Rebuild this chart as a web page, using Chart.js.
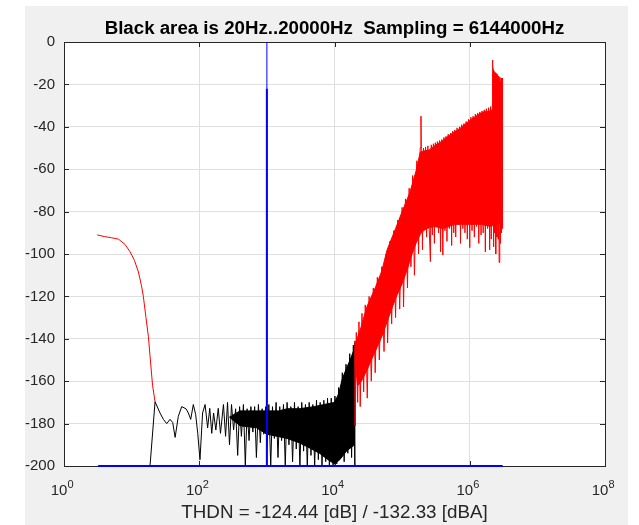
<!DOCTYPE html>
<html>
<head>
<meta charset="utf-8">
<script src="https://cdn.jsdelivr.net/npm/chart.js@4.4.0/dist/chart.umd.min.js"></script>
<style>
  body { margin: 0; background: #fff; }
  #figure { position: absolute; left: 25px; top: 6px; width: 603px; height: 519px; background: #f0f0f0; }
  #spectrum { position: absolute; left: 0; top: 0; }
</style>
</head>
<body>
<div id="figure"></div>
<canvas id="spectrum" width="639" height="525"></canvas>
<script>
// axis ticks (x labels are 10 with a raised exponent)
const xTickValues = [1, 1e2, 1e4, 1e6, 1e8];
const xTickBase = ['10', '10', '10', '10', '10'];
const xTickExponents = ['0', '2', '4', '6', '8'];

// blue: test tone at 1 kHz and the floor line
const toneHz = 1000;
const toneTopDb = 0;
const toneShoulderDb = -22;
const floorHz = [3.2, 3.07e6];
const floorDb = [-200, -200];

// red roll-off below 20 Hz
const lowFreqHz = [3.1, 4, 5, 6.4, 8, 9.5, 11, 12.6, 14, 14.9, 16.3, 17.7, 18.7, 20.4, 22.2];
const lowDb = [-91, -91.8, -92.3, -93, -95.5, -99, -103, -108.5, -115, -120, -130, -139, -148, -162, -169.7];

// black trace 20 Hz .. 20 kHz
const blackHz = [18.7, 22.2, 26.3, 29.5, 33, 37, 40.5, 44, 49, 55, 63.6, 69, 74.8, 81.7, 88.6, 95, 102.5, 112, 122, 133,
  143, 153, 163, 176, 191, 206, 228, 245, 262, 280, 300, 322, 345, 370, 395, 420, 450, 480, 510, 545,
  580, 620, 660, 700, 750, 800, 850, 900, 960, 1000, 1070, 1140, 1210, 1290, 1370, 1460, 1550, 1650, 1760, 1870,
  1990, 2120, 2260, 2400, 2560, 2720, 2900, 3080, 3280, 3490, 3720, 3960, 4220, 4490, 4780, 5090, 5420, 5770, 6140, 6540,
  6960, 7410, 7890, 8400, 8950, 9530, 10150, 10800, 11500, 12250, 13050, 13900, 14800, 15750, 16800, 17900, 19000, 20000, 20100];
const blackDb = [-200, -169.7, -175, -178, -180, -178, -179.5, -186.5, -176.6, -172, -173, -175, -178, -171, -175.8, -184.6, -197, -175, -171, -182,
  -172.8, -184.6, -175, -183, -172.8, -184.6, -171, -186, -170, -190, -171, -183, -173, -195, -172, -186, -171, -200, -173, -188,
  -172, -184, -172, -196, -171, -189, -173, -185, -172, -191, -171, -200, -172, -187, -170, -196, -172, -188, -171, -200,
  -170, -190, -172, -198, -170, -192, -172, -200, -170, -193, -171, -200, -170, -195, -171, -200, -169, -197, -170, -200,
  -169, -198, -168, -200, -168, -200, -167, -199, -163, -196, -156, -198, -152, -194, -147, -196, -143, -200, -141];

// black dense band envelopes
const blackTopHz = [280, 400, 500, 700, 1000, 1500, 2000, 3000, 5000, 7000, 10000, 11500, 13000, 15000, 17000, 19000, 20000];
const blackTopDb = [-177, -174, -174, -174, -174, -174, -173, -173, -172, -171, -170, -166, -159, -154, -150, -146, -142];
const blackBotHz = [280, 400, 700, 1000, 2000, 3000, 4000, 6000, 8000, 10000, 12000, 15000, 18000, 20000];
const blackBotDb = [-177, -181, -182, -185, -187, -189, -191, -194, -197, -199, -197, -193, -191, -190];

// red trace above 20 kHz
const redHz = [20100, 20300, 21000, 22000, 23000, 24000, 25500, 27000, 28500, 30500, 32500, 35000, 37500, 40000, 43000, 46000, 50000, 54000, 58000, 61000,
  66000, 70000, 75000, 80000, 86000, 92000, 100000, 105000, 112000, 120000, 127000, 135000, 143000, 152000, 165000, 175000, 185000, 190000, 192000, 200000,
  207000, 215000, 222000, 230000, 240000, 250000, 262000, 270000, 280000, 290000, 300000, 310000, 320000, 332000, 345000, 357000, 370000, 385000, 400000, 415000,
  430000, 445000, 460000, 480000, 500000, 520000, 540000, 560000, 580000, 600000, 620000, 650000, 680000, 705000, 730000, 760000, 790000, 820000, 850000, 885000,
  920000, 960000, 1000000, 1040000, 1080000, 1120000, 1170000, 1210000, 1260000, 1310000, 1360000, 1410000, 1470000, 1520000, 1580000, 1640000, 1700000, 1760000, 1830000, 1900000,
  1970000, 2030000, 2080000, 2150000, 2170000, 2190000, 2210000, 2240000, 2260000, 2300000, 2330000, 2370000, 2420000, 2470000, 2520000, 2570000, 2620000, 2670000, 2720000, 2780000,
  2850000, 2900000, 2950000, 3000000, 3040000, 3070000];
const redDb = [-141, -181, -137, -170, -132, -172, -128, -165, -124, -168, -120, -160, -116, -156, -111, -150, -106, -146, -100, -142,
  -94, -133, -89, -130, -84, -126, -78, -125, -74, -116, -69, -106, -63, -110, -56, -100, -50, -35, -51, -98,
  -50, -88, -49.5, -92, -49, -86, -103.6, -48.5, -91, -48, -95, -47.5, -87, -47, -90, -46.5, -99, -46, -100.5, -45,
  -89, -44.5, -94, -43.5, -88, -43, -96, -42, -90, -41.5, -92, -40.5, -86, -40, -95, -39, -88, -38.5, -90, -37.5,
  -93, -36.5, -97, -35.5, -89, -35, -92, -34, -87, -33.5, -95, -33, -91, -32.5, -90, -32, -99, -31.5, -88, -31,
  -98, -30.5, -93, -30, -8.5, -11, -13, -89, -96.5, -14, -90, -14.5, -100, -15, -92, -15.5, -93, -16, -104, -16.5,
  -95, -17, -90, -17, -88, -17.5];

// red dense band envelopes
const redTopHz = [20100, 25000, 30000, 40000, 50000, 60000, 80000, 100000, 130000, 160000, 185000, 200000, 250000, 300000, 400000, 500000, 700000, 1000000, 1300000, 1600000, 2000000, 2150000, 2200000, 2400000, 2700000, 3070000];
const redTopDb = [-143, -134, -125, -116, -108, -98, -88, -80, -71, -61, -52, -51.5, -51, -49, -46.5, -44, -41, -37, -34.5, -33, -32.5, -32, -15, -17, -18.5, -19.5];
const redBotHz = [20100, 22000, 25000, 30000, 35000, 40000, 50000, 60000, 70000, 80000, 100000, 120000, 140000, 160000, 190000, 230000, 300000, 400000, 600000, 1000000, 1500000, 2000000, 2500000, 3070000];
const redBotDb = [-150, -162, -160, -155, -150, -146, -139, -132, -126, -121, -114, -107, -100, -95, -90, -88, -87, -88, -86, -86, -86, -87, -86, -85];

const FONT = '"Liberation Sans", Arial, Helvetica, sans-serif';
const RED = '#ff0000';
const BLUE = '#0000ff';
const AXIS_COLOR = '#262626';

const pts = (xs, ys) => xs.map((f, i) => ({ x: f, y: ys[i] }));

function lineSet(data, color, width, extra) {
    return Object.assign({
        data: data, xAxisID: 'x', yAxisID: 'y',
        borderColor: color, backgroundColor: color, borderWidth: width, pointRadius: 0, fill: false
    }, extra || {});
}

// white plot area, axes box, inner tick marks and the raised exponents of the x labels
const axesBox = {
    id: 'axesBox',
    beforeDraw(chart) {
        const a = chart.chartArea;
        chart.ctx.save();
        chart.ctx.fillStyle = '#ffffff';
        chart.ctx.fillRect(a.left, a.top, a.width, a.height);
        chart.ctx.restore();
    },
    beforeDatasetsDraw(chart) {
        const { ctx, chartArea: a, scales } = chart;
        ctx.save();
        ctx.strokeStyle = AXIS_COLOR;
        ctx.lineWidth = 1;
        ctx.strokeRect(a.left + 0.5, a.top + 0.5, a.width, a.height);
        ctx.beginPath();
        xTickValues.forEach(v => {
            const px = Math.round(scales.x.getPixelForValue(v)) + 0.5;
            ctx.moveTo(px, a.bottom); ctx.lineTo(px, a.bottom - 5);
            ctx.moveTo(px, a.top); ctx.lineTo(px, a.top + 5);
        });
        scales.y.ticks.forEach(t => {
            const py = Math.round(scales.y.getPixelForValue(t.value)) + 0.5;
            ctx.moveTo(a.left, py); ctx.lineTo(a.left + 5, py);
            ctx.moveTo(a.right, py); ctx.lineTo(a.right - 5, py);
        });
        ctx.stroke();
        ctx.restore();
    },
    afterDraw(chart) {
        const { ctx, scales } = chart;
        ctx.save();
        ctx.font = '11px ' + FONT;
        ctx.fillStyle = AXIS_COLOR;
        ctx.textAlign = 'left';
        ctx.textBaseline = 'alphabetic';
        xTickValues.forEach((v, i) => {
            const px = scales.x.getPixelForValue(v);
            ctx.fillText(xTickExponents[i], px + 3.5, scales.x.top + 22);
        });
        ctx.restore();
    }
};

new Chart(document.getElementById('spectrum'), {
    type: 'line',
    data: {
        datasets: [
            lineSet([{ x: toneHz, y: -200 }, { x: toneHz, y: toneTopDb }], BLUE, 1),
            lineSet([{ x: toneHz, y: -200 }, { x: toneHz, y: toneShoulderDb }], BLUE, 2),
            lineSet(pts(floorHz, floorDb), BLUE, 2, { clip: 2 }),
            lineSet(pts(lowFreqHz, lowDb), RED, 1),
            lineSet(pts(redHz, redDb), RED, 1),
            lineSet(pts(redTopHz, redTopDb), RED, 1, { fill: '+1' }),
            lineSet(pts(redBotHz, redBotDb), RED, 1),
            lineSet(pts(blackHz, blackDb), '#000000', 1),
            lineSet(pts(blackTopHz, blackTopDb), '#000000', 1, { fill: '+1' }),
            lineSet(pts(blackBotHz, blackBotDb), '#000000', 1)
        ]
    },
    options: {
        responsive: false,
        animation: false,
        devicePixelRatio: 1,
        layout: { padding: { left: 0, right: 34, top: 0, bottom: 0 } },
        elements: { line: { tension: 0 } },
        plugins: {
            legend: { display: false },
            tooltip: { enabled: false }
        },
        scales: {
            x: {
                type: 'logarithmic',
                min: 1,
                max: 1e8,
                afterBuildTicks: scale => { scale.ticks = xTickValues.map(v => ({ value: v })); },
                afterFit: scale => { scale.height = 59; },
                ticks: {
                    autoSkip: false,
                    maxRotation: 0,
                    padding: 16,
                    labelOffset: -5,
                    color: AXIS_COLOR,
                    font: { family: FONT, size: 15 },
                    callback: (value, index) => xTickBase[index]
                },
                grid: { color: '#dfdfdf', drawTicks: false },
                border: { display: false },
                title: {
                    display: true,
                    text: 'THDN = -124.44 [dB] / -132.33 [dBA]',
                    color: AXIS_COLOR,
                    font: { family: FONT, size: 18.8 },
                    padding: { top: 0, bottom: 1 }
                }
            },
            // top axis only carries the title, so it is centred over the plot box
            top: {
                type: 'linear',
                position: 'top',
                afterFit: scale => { scale.height = 42; },
                ticks: { display: false },
                grid: { display: false, drawTicks: false },
                border: { display: false },
                title: {
                    display: true,
                    text: 'Black area is 20Hz..20000Hz  Sampling = 6144000Hz',
                    color: '#000000',
                    font: { family: FONT, size: 18.7, weight: 'bold' },
                    padding: { top: 18, bottom: 0 }
                }
            },
            y: {
                min: -200,
                max: 0,
                afterFit: scale => { scale.width = 64; },
                ticks: { stepSize: 20, padding: 9, color: AXIS_COLOR, font: { family: FONT, size: 15 } },
                grid: { color: '#dfdfdf', drawTicks: false },
                border: { display: false }
            }
        }
    },
    plugins: [axesBox]
});
</script>
</body>
</html>
